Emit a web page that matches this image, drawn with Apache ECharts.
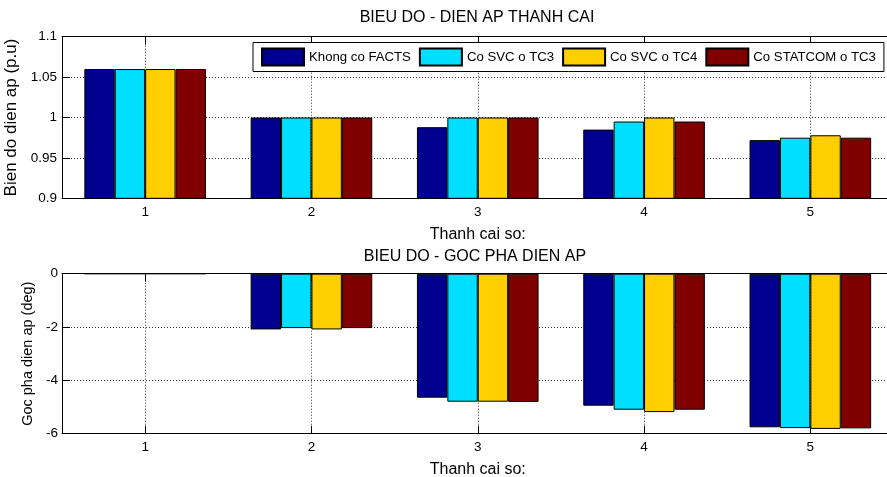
<!DOCTYPE html>
<html>
<head>
<meta charset="utf-8">
<script src="https://cdn.jsdelivr.net/npm/echarts@6/dist/echarts.min.js"></script>
<style>
html,body{margin:0;padding:0;background:#fff;}
#chart{width:887px;height:477px;}
</style>
</head>
<body>
<div id="chart"></div>
<script>
// ---- Data ----
var categories = ['1', '2', '3', '4', '5'];
var seriesNames = ['Khong co FACTS', 'Co SVC o TC3', 'Co SVC o TC4', 'Co STATCOM o TC3'];
// Bien do dien ap (p.u)
var voltKhongFacts = [1.06, 1.0, 0.988, 0.985, 0.972];
var voltSvcTc3     = [1.06, 1.0, 1.0, 0.995, 0.975];
var voltSvcTc4     = [1.06, 1.0, 1.0, 1.0, 0.978];
var voltStatcomTc3 = [1.06, 1.0, 1.0, 0.995, 0.975];
// Goc pha dien ap (deg)
var angKhongFacts = [0, -2.09, -4.65, -4.95, -5.76];
var angSvcTc3     = [0, -2.04, -4.80, -5.10, -5.79];
var angSvcTc4     = [0, -2.09, -4.80, -5.19, -5.82];
var angStatcomTc3 = [0, -2.04, -4.81, -5.10, -5.80];
// Tick settings
var voltTicks = {min: 0.9, max: 1.1, interval: 0.05};
var angTicks = {min: -6, max: 0, interval: 2};

var colors = ['#00008F', '#00DFFF', '#FFCF00', '#800000'];
var FONT = "'Liberation Sans', Arial, Helvetica, sans-serif";

var gridLine = {show: true, lineStyle: {color: '#333', type: [1, 2], width: 1}};

function xAxisPair(gridIndex) {
  return [{
    type: 'category', gridIndex: gridIndex, data: categories, position: 'bottom',
    name: 'Thanh cai so:', nameLocation: 'middle', nameGap: 28,
    nameTextStyle: {fontSize: 16, color: '#000', fontFamily: FONT},
    axisLine: {show: true, onZero: false, lineStyle: {color: '#000', width: 1}},
    axisTick: {show: true, inside: true, length: 8, alignWithLabel: true, lineStyle: {color: '#000'}},
    axisLabel: {color: '#000', fontSize: 13.5, fontFamily: FONT, margin: 7},
    splitLine: {show: true, alignWithLabel: true, lineStyle: {color: '#333', type: [1, 2], width: 1}}
  }, {
    type: 'category', gridIndex: gridIndex, data: categories, position: 'top',
    axisLine: {show: true, onZero: false, lineStyle: {color: '#000', width: 1}},
    axisTick: {show: true, inside: true, length: 8, alignWithLabel: true, lineStyle: {color: '#000'}},
    axisLabel: {show: false},
    splitLine: {show: false}
  }];
}

var xAxes = xAxisPair(0).concat(xAxisPair(1));

var yAxes = [{
  type: 'value', gridIndex: 0, min: voltTicks.min, max: voltTicks.max, interval: voltTicks.interval,
  name: 'Bien do dien ap (p.u)', nameLocation: 'middle', nameGap: 35,
  nameTextStyle: {fontSize: 17, color: '#000', fontFamily: FONT},
  axisLine: {show: true, lineStyle: {color: '#000', width: 1}},
  axisTick: {show: true, inside: true, length: 8, lineStyle: {color: '#000'}},
  axisLabel: {color: '#000', fontSize: 13.5, fontFamily: FONT, margin: 5,
    formatter: function (v) { return String(Math.round(v * 100) / 100); }},
  splitLine: gridLine
}, {
  type: 'value', gridIndex: 1, min: angTicks.min, max: angTicks.max, interval: angTicks.interval,
  name: 'Goc pha dien ap (deg)', nameLocation: 'middle', nameGap: 21,
  nameTextStyle: {fontSize: 14.5, color: '#000', fontFamily: FONT},
  axisLine: {show: true, onZero: false, lineStyle: {color: '#000', width: 1}},
  axisTick: {show: true, inside: true, length: 8, lineStyle: {color: '#000'}},
  axisLabel: {color: '#000', fontSize: 13.5, fontFamily: FONT, margin: 4},
  splitLine: gridLine
}];

var voltData = [voltKhongFacts, voltSvcTc3, voltSvcTc4, voltStatcomTc3];
var angData = [angKhongFacts, angSvcTc3, angSvcTc4, angStatcomTc3];

var series = [];
seriesNames.forEach(function (name, i) {
  series.push({
    name: name, type: 'bar', xAxisIndex: 0, yAxisIndex: 0, data: voltData[i],
    barWidth: 30.4, barGap: '0%',
    itemStyle: {color: colors[i], borderColor: '#000', borderWidth: 1},
    emphasis: {disabled: true}, animation: false
  });
});
seriesNames.forEach(function (name, i) {
  series.push({
    name: name, type: 'bar', xAxisIndex: 2, yAxisIndex: 1, data: angData[i],
    barWidth: 30.4, barGap: '0%',
    itemStyle: {color: colors[i], borderColor: '#000', borderWidth: 1},
    emphasis: {disabled: true}, animation: false
  });
});

var chart = echarts.init(document.getElementById('chart'), null, {renderer: 'canvas'});
chart.setOption({
  backgroundColor: '#fff',
  animation: false,
  textStyle: {fontFamily: FONT},
  grid: [
    {left: 62, top: 36.7, width: 831.5, height: 161.6, containLabel: false, outerBoundsMode: 'none'},
    {left: 62, top: 273.7, width: 831.5, height: 160, containLabel: false, outerBoundsMode: 'none'}
  ],
  legend: {
    data: seriesNames, left: 253, top: 42.5, width: 700,
    orient: 'horizontal', icon: 'rect',
    itemWidth: 42, itemHeight: 17, itemGap: 8,
    padding: [5, 8, 5, 8],
    borderColor: '#000', borderWidth: 1, backgroundColor: '#fff',
    textStyle: {fontSize: 13.2, color: '#000', fontFamily: FONT},
    selectedMode: false
  },
  graphic: [
    {type: 'text', x: 477, y: 18, style: {text: 'BIEU DO - DIEN AP THANH CAI', fontSize: 16, fontFamily: FONT, fill: '#000', textAlign: 'center', textVerticalAlign: 'middle'}},
    {type: 'text', x: 475, y: 257, style: {text: 'BIEU DO - GOC PHA DIEN AP', fontSize: 16, fontFamily: FONT, fill: '#000', textAlign: 'center', textVerticalAlign: 'middle'}}
  ],
  xAxis: xAxes,
  yAxis: yAxes,
  series: series
});
</script>
</body>
</html>
